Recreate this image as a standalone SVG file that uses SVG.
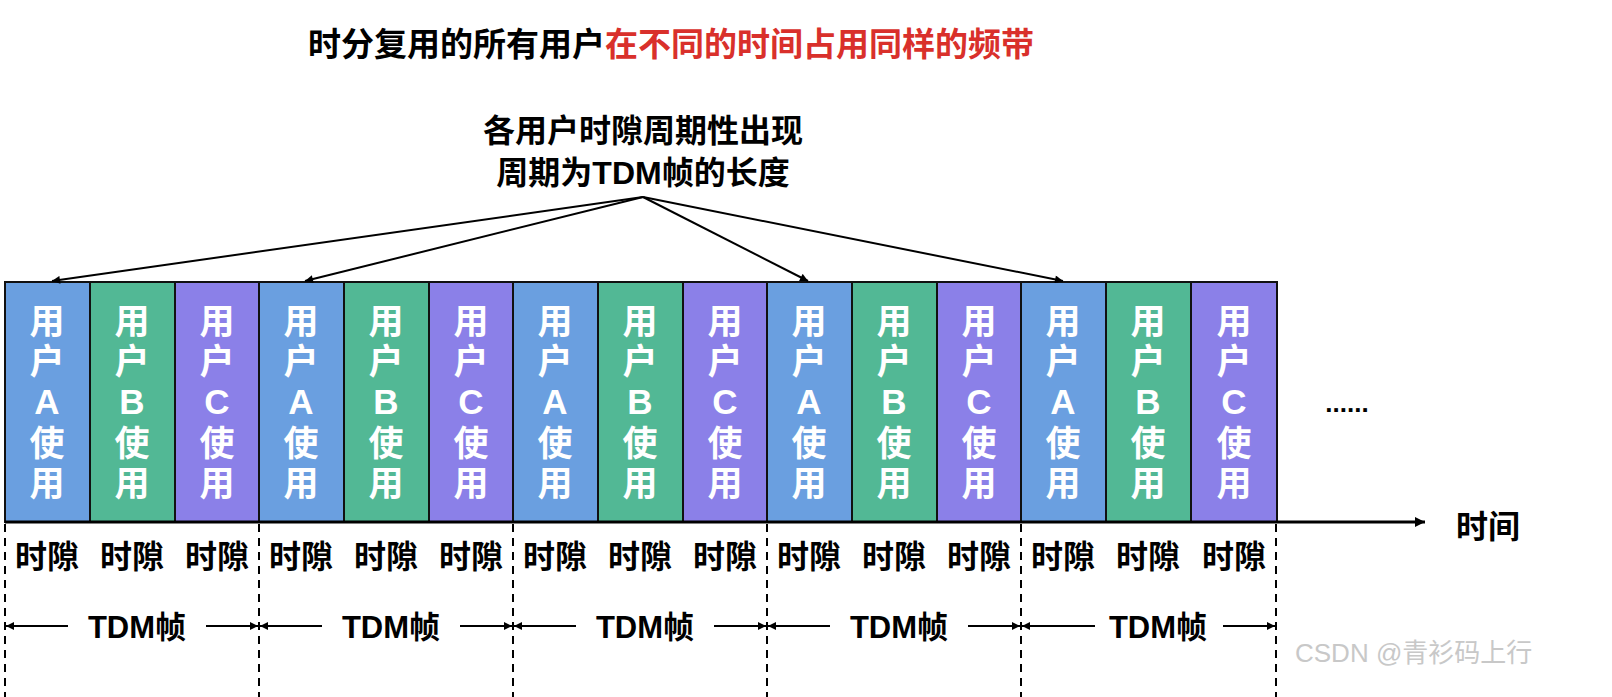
<svg xmlns="http://www.w3.org/2000/svg" width="1612" height="697" viewBox="0 0 1612 697">
<defs>
<style>
text{font-family:"Liberation Sans","Noto Sans CJK SC",sans-serif;font-weight:bold}
.b{fill:#fff;font-size:35px;text-anchor:middle}
.s{font-size:32px;text-anchor:middle;fill:#000}
.t{font-size:31px;text-anchor:middle;fill:#000}
.A{fill:#6a9fe0;stroke:#111;stroke-width:2}
.B{fill:#52b895;stroke:#111;stroke-width:2}
.C{fill:#8b80e8;stroke:#111;stroke-width:2}
.ln{stroke:#000;stroke-width:2;fill:none}
.d{stroke:#000;stroke-width:2;stroke-dasharray:8,6}
</style>
<marker id="ah" viewBox="0 0 10 10" refX="10" refY="5" markerWidth="10" markerHeight="8" orient="auto-start-reverse" markerUnits="userSpaceOnUse"><path d="M0,0L10,5L0,10z" fill="#000"/></marker>
<marker id="ah2" viewBox="0 0 10 10" refX="10" refY="5" markerWidth="14" markerHeight="10" orient="auto" markerUnits="userSpaceOnUse"><path d="M0,0L10,5L0,10z" fill="#000"/></marker>
</defs>
<text x="308" y="56" font-size="33" fill="#000">时分复用的所有用户<tspan fill="#d9302b">在不同的时间占用同样的频带</tspan></text>
<text x="643" y="142" class="s">各用户时隙周期性出现</text>
<text x="643" y="184" class="s">周期为TDM帧的长度</text>
<g id="slots">
<g id="f1">
<rect x="5" y="282" width="85" height="240" class="A"/><rect x="90" y="282" width="85" height="240" class="B"/><rect x="175" y="282" width="84" height="240" class="C"/>
</g>
<g id="f2">
<rect x="259" y="282" width="85" height="240" class="A"/><rect x="344" y="282" width="85" height="240" class="B"/><rect x="429" y="282" width="84" height="240" class="C"/>
</g>
<g id="f3">
<rect x="513" y="282" width="85" height="240" class="A"/><rect x="598" y="282" width="85" height="240" class="B"/><rect x="683" y="282" width="84" height="240" class="C"/>
</g>
<g id="f4">
<rect x="767" y="282" width="85" height="240" class="A"/><rect x="852" y="282" width="85" height="240" class="B"/><rect x="937" y="282" width="84" height="240" class="C"/>
</g>
<g id="f5">
<rect x="1021" y="282" width="85" height="240" class="A"/><rect x="1106" y="282" width="85" height="240" class="B"/><rect x="1191" y="282" width="86" height="240" class="C"/>
</g>
</g>
<g id="slotText">
<text class="b"><tspan x="47" y="334">用</tspan><tspan x="47" y="374">户</tspan><tspan x="47" y="414">A</tspan><tspan x="47" y="456">使</tspan><tspan x="47" y="496">用</tspan></text>
<text class="b"><tspan x="132" y="334">用</tspan><tspan x="132" y="374">户</tspan><tspan x="132" y="414">B</tspan><tspan x="132" y="456">使</tspan><tspan x="132" y="496">用</tspan></text>
<text class="b"><tspan x="217" y="334">用</tspan><tspan x="217" y="374">户</tspan><tspan x="217" y="414">C</tspan><tspan x="217" y="456">使</tspan><tspan x="217" y="496">用</tspan></text>
<text class="b"><tspan x="301" y="334">用</tspan><tspan x="301" y="374">户</tspan><tspan x="301" y="414">A</tspan><tspan x="301" y="456">使</tspan><tspan x="301" y="496">用</tspan></text>
<text class="b"><tspan x="386" y="334">用</tspan><tspan x="386" y="374">户</tspan><tspan x="386" y="414">B</tspan><tspan x="386" y="456">使</tspan><tspan x="386" y="496">用</tspan></text>
<text class="b"><tspan x="471" y="334">用</tspan><tspan x="471" y="374">户</tspan><tspan x="471" y="414">C</tspan><tspan x="471" y="456">使</tspan><tspan x="471" y="496">用</tspan></text>
<text class="b"><tspan x="555" y="334">用</tspan><tspan x="555" y="374">户</tspan><tspan x="555" y="414">A</tspan><tspan x="555" y="456">使</tspan><tspan x="555" y="496">用</tspan></text>
<text class="b"><tspan x="640" y="334">用</tspan><tspan x="640" y="374">户</tspan><tspan x="640" y="414">B</tspan><tspan x="640" y="456">使</tspan><tspan x="640" y="496">用</tspan></text>
<text class="b"><tspan x="725" y="334">用</tspan><tspan x="725" y="374">户</tspan><tspan x="725" y="414">C</tspan><tspan x="725" y="456">使</tspan><tspan x="725" y="496">用</tspan></text>
<text class="b"><tspan x="809" y="334">用</tspan><tspan x="809" y="374">户</tspan><tspan x="809" y="414">A</tspan><tspan x="809" y="456">使</tspan><tspan x="809" y="496">用</tspan></text>
<text class="b"><tspan x="894" y="334">用</tspan><tspan x="894" y="374">户</tspan><tspan x="894" y="414">B</tspan><tspan x="894" y="456">使</tspan><tspan x="894" y="496">用</tspan></text>
<text class="b"><tspan x="979" y="334">用</tspan><tspan x="979" y="374">户</tspan><tspan x="979" y="414">C</tspan><tspan x="979" y="456">使</tspan><tspan x="979" y="496">用</tspan></text>
<text class="b"><tspan x="1063" y="334">用</tspan><tspan x="1063" y="374">户</tspan><tspan x="1063" y="414">A</tspan><tspan x="1063" y="456">使</tspan><tspan x="1063" y="496">用</tspan></text>
<text class="b"><tspan x="1148" y="334">用</tspan><tspan x="1148" y="374">户</tspan><tspan x="1148" y="414">B</tspan><tspan x="1148" y="456">使</tspan><tspan x="1148" y="496">用</tspan></text>
<text class="b"><tspan x="1234" y="334">用</tspan><tspan x="1234" y="374">户</tspan><tspan x="1234" y="414">C</tspan><tspan x="1234" y="456">使</tspan><tspan x="1234" y="496">用</tspan></text>
</g>
<text x="1347" y="412" font-size="26" text-anchor="middle">......</text>
<g id="connectors">
<line x1="643" y1="197" x2="52" y2="281" class="ln" marker-end="url(#ah)"/>
<line x1="643" y1="197" x2="305" y2="281" class="ln" marker-end="url(#ah)"/>
<line x1="643" y1="197" x2="808" y2="281" class="ln" marker-end="url(#ah)"/>
<line x1="643" y1="197" x2="1063" y2="281" class="ln" marker-end="url(#ah)"/>
<line x1="5" y1="522" x2="1425" y2="522" stroke="#000" stroke-width="3" marker-end="url(#ah2)"/>
<line x1="5" y1="524" x2="5" y2="697" class="d"/>
<line x1="259" y1="524" x2="259" y2="697" class="d"/>
<line x1="513" y1="524" x2="513" y2="697" class="d"/>
<line x1="767" y1="524" x2="767" y2="697" class="d"/>
<line x1="1021" y1="524" x2="1021" y2="697" class="d"/>
<line x1="1276" y1="524" x2="1276" y2="697" class="d"/>
<g class="ln" stroke-width="1.5">
<line x1="68" y1="626" x2="6" y2="626" marker-end="url(#ah)"/><line x1="206" y1="626" x2="258" y2="626" marker-end="url(#ah)"/>
<line x1="322" y1="626" x2="260" y2="626" marker-end="url(#ah)"/><line x1="460" y1="626" x2="512" y2="626" marker-end="url(#ah)"/>
<line x1="576" y1="626" x2="514" y2="626" marker-end="url(#ah)"/><line x1="714" y1="626" x2="766" y2="626" marker-end="url(#ah)"/>
<line x1="830" y1="626" x2="768" y2="626" marker-end="url(#ah)"/><line x1="968" y1="626" x2="1020" y2="626" marker-end="url(#ah)"/>
<line x1="1095" y1="626" x2="1022" y2="626" marker-end="url(#ah)"/><line x1="1223" y1="626" x2="1275" y2="626" marker-end="url(#ah)"/>
</g>
</g>
<g id="labels">
<text class="s" x="47" y="568">时隙</text><text class="s" x="132" y="568">时隙</text><text class="s" x="217" y="568">时隙</text>
<text class="s" x="301" y="568">时隙</text><text class="s" x="386" y="568">时隙</text><text class="s" x="471" y="568">时隙</text>
<text class="s" x="555" y="568">时隙</text><text class="s" x="640" y="568">时隙</text><text class="s" x="725" y="568">时隙</text>
<text class="s" x="809" y="568">时隙</text><text class="s" x="894" y="568">时隙</text><text class="s" x="979" y="568">时隙</text>
<text class="s" x="1063" y="568">时隙</text><text class="s" x="1148" y="568">时隙</text><text class="s" x="1234" y="568">时隙</text>
<text class="t" x="137" y="638">TDM帧</text><text class="t" x="391" y="638">TDM帧</text><text class="t" x="645" y="638">TDM帧</text>
<text class="t" x="899" y="638">TDM帧</text><text class="t" x="1158" y="638">TDM帧</text>
<text x="1488" y="538" class="s">时间</text>
</g>
<text x="1295" y="662" font-size="26" fill="#c8c8c8" style="font-weight:normal">CSDN @青衫码上行</text>
</svg>
